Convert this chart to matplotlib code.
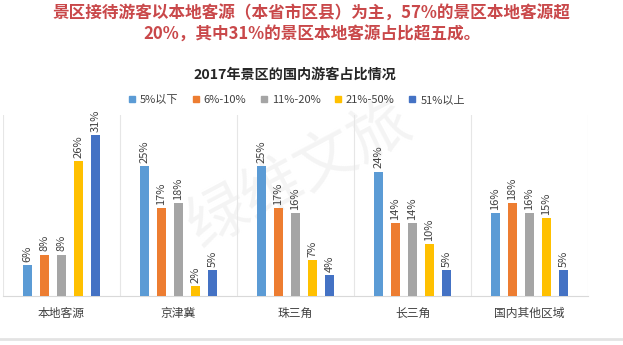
import matplotlib
matplotlib.use("Agg")
import matplotlib.pyplot as plt
import numpy as np
from matplotlib.lines import Line2D

plt.rcParams['font.family'] = ['Noto Sans CJK SC', 'DejaVu Sans']

categories = ['本地客源', '京津冀', '珠三角', '长三角', '国内其他区域']
series_names = ['5%以下', '6%-10%', '11%-20%', '21%-50%', '51%以上']
values = {
    '5%以下':  [6, 25, 25, 24, 16],
    '6%-10%':  [8, 17, 17, 14, 18],
    '11%-20%': [8, 18, 16, 14, 16],
    '21%-50%': [26, 2, 7, 10, 15],
    '51%以上': [31, 5, 4, 5, 5],
}
colors = ['#5B9BD5', '#ED7D31', '#A5A5A5', '#FFC000', '#4472C4']

W, H = 623, 345
fig = plt.figure(figsize=(W / 100, H / 100), dpi=100)
ax = fig.add_axes([3 / W, 1 - 296 / H, 585 / W, 181 / H])
ax.patch.set_visible(False)

x = np.arange(len(categories))
step = 0.145
bw = 0.077
for i, name in enumerate(series_names):
    xs = x + (i - 2) * step
    vals = values[name]
    ax.bar(xs, vals, width=bw, color=colors[i], zorder=3)
    for xi, v in zip(xs, vals):
        ax.text(xi, v + 0.6, f'{v}%', rotation=90, ha='center', va='bottom',
                fontsize=8, color='#404040', zorder=4)

ax.set_xlim(-0.5, len(categories) - 0.5)
ax.set_ylim(0, 34.9)
ax.set_yticks([])
ax.set_xticks([])
for s in ['top', 'left', 'right']:
    ax.spines[s].set_visible(False)
ax.spines['bottom'].set_color('#d9d9d9')
for b in np.arange(-0.5, len(categories), 1.0):
    ax.axvline(b, color='#e6e6e6', lw=0.8, zorder=1)

for xi, c in zip(x, categories):
    ax.text(xi, -3.3, c, ha='center', va='center', fontsize=8.5, color='#404040')

# watermark (very faint, behind everything)
wm = fig.text(300 / W, 1 - 175 / H, '绿维文旅', rotation=28, fontsize=44, color='#f4f4f4',
              ha='center', va='center', fontstyle='italic')
wm.set_zorder(-5)

# header
fig.text(0.5, 1 - 14 / H, '景区接待游客以本地客源（本省市区县）为主，57%的景区本地客源超',
         ha='center', va='center', fontsize=12, fontweight='bold', color='#C9484A')
fig.text(0.5, 1 - 35 / H, '20%，其中31%的景区本地客源占比超五成。',
         ha='center', va='center', fontsize=12, fontweight='bold', color='#C9484A')

fig.text(295 / W, 1 - 75 / H, '2017年景区的国内游客占比情况', ha='center', va='center',
         fontsize=10.2, fontweight='bold', color='#262626')

handles = [Line2D([0], [0], marker='s', color='none', markerfacecolor=c, markeredgecolor=c,
                  markersize=5) for c in colors]
fig.legend(handles, series_names, loc='center', bbox_to_anchor=(296 / W, 1 - 100 / H),
           ncol=5, frameon=False, fontsize=8, handlelength=0.8, handletextpad=0.3,
           columnspacing=1.2, labelcolor='#404040')

fig.add_artist(Line2D([0, 1], [1 - 339 / H, 1 - 339 / H], color='#e3e3e3', lw=2,
                      transform=fig.transFigure))

fig.savefig('out.png', dpi=100)
